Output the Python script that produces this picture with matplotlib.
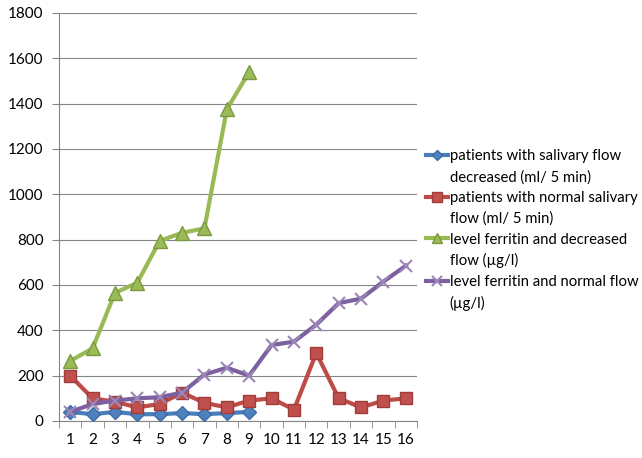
import matplotlib
matplotlib.use("Agg")
import matplotlib.pyplot as plt
from matplotlib.lines import Line2D
import numpy as np

plt.rcParams['font.family'] = ['Lato', 'DejaVu Sans']

categories = list(range(1, 17))
blue_vals = [40, 30, 40, 30, 30, 35, 30, 35, 40]
red_vals = [200, 100, 85, 60, 75, 125, 80, 60, 90, 100, 50, 300, 100, 60, 90, 100]
green_vals = [265, 320, 565, 610, 795, 830, 850, 1375, 1540]
purple_vals = [40, 75, 90, 100, 105, 125, 205, 235, 200, 335, 350, 425, 520, 540, 615, 685]
labels = [("patients with salivary flow", "decreased (ml/ 5 min)"),
          ("patients with normal salivary", "flow (ml/ 5 min)"),
          ("level ferritin and decreased", "flow (\u00b5g/l)"),
          ("level ferritin and normal flow", "(\u00b5g/l)")]
yticks = [0, 200, 400, 600, 800, 1000, 1200, 1400, 1600, 1800]

fig = plt.figure(figsize=(6.42, 4.58), dpi=100)
ax = fig.add_axes([59/642, 37/458, (417-59)/642, (421-13)/458])

lw = 3
h1, = ax.plot(categories[:len(blue_vals)], blue_vals, color='#4A7EBB', lw=lw, marker='D',
              markersize=7, markerfacecolor='#4F81BD', markeredgecolor='#3A6CA8', zorder=3)
h2, = ax.plot(categories[:len(red_vals)], red_vals, color='#BE4B48', lw=lw, marker='s',
              markersize=9, markerfacecolor='#C0504D', markeredgecolor='#A03C3A', zorder=3)
h3, = ax.plot(categories[:len(green_vals)], green_vals, color='#98B954', lw=lw, marker='^',
              markersize=10, markerfacecolor='#9BBB59', markeredgecolor='#7A9A3E', zorder=3)
h4, = ax.plot(categories[:len(purple_vals)], purple_vals, color='#7D60A0', lw=lw, marker='x',
              markersize=9, markeredgewidth=1.5, markeredgecolor='#9B86B8', zorder=4)

ax.set_xlim(0.5, 16.5)
ax.set_ylim(0, 1800)
ax.set_yticks(yticks)
ax.set_xticks(categories)
ax.set_xticks(np.arange(0.5, 17, 1), minor=True)
ax.tick_params(axis='x', which='major', length=0, pad=9, labelsize=11)
ax.tick_params(axis='x', which='minor', length=5, color='#868686')
ax.tick_params(axis='y', length=5, color='#868686', labelsize=11, pad=6)
ax.grid(axis='y', color='#868686', lw=0.8)
ax.set_axisbelow(True)
for s in ['top', 'right']:
    ax.spines[s].set_visible(False)
for s in ['left', 'bottom']:
    ax.spines[s].set_color('#868686')
    ax.spines[s].set_linewidth(0.8)

handles, texts = [], []
for h, (l1, l2) in zip([h1, h2, h3, h4], labels):
    handles += [h, Line2D([], [], color='none')]
    texts += [l1, l2]

leg = fig.legend(handles, texts, loc='center left', bbox_to_anchor=(426/642, 1 - 230/458),
                 frameon=False, fontsize=10.7, handlelength=1.5, handletextpad=0.1,
                 labelspacing=0.45, borderaxespad=0, borderpad=0, markerscale=0.75)

fig.savefig('out.png', dpi=100)
